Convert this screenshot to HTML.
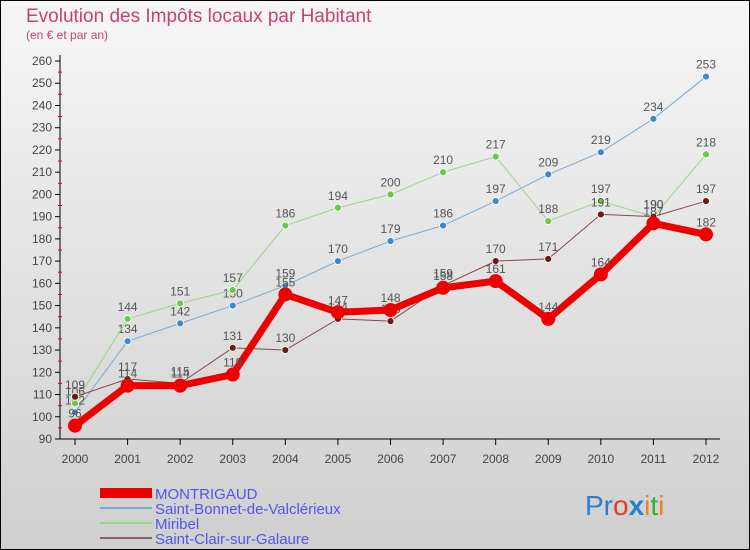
<!DOCTYPE html>
<html><head><meta charset="utf-8"><style>
body{margin:0;width:750px;height:550px;overflow:hidden}
svg{display:block;font-family:"Liberation Sans","DejaVu Sans",sans-serif}
</style></head><body>
<svg width="750" height="550" viewBox="0 0 750 550">
<defs><linearGradient id="bg" x1="0" y1="0" x2="0" y2="1"><stop offset="0" stop-color="#f6f6f6"/><stop offset="1" stop-color="#cfcfcf"/></linearGradient></defs>
<rect x="0.5" y="0.5" width="749" height="549" fill="url(#bg)" stroke="#000"/>
<text x="26" y="22" font-size="19" fill="#c8407a">Evolution des Impôts locaux par Habitant</text>
<text x="26" y="39" font-size="12" fill="#c8407a">(en € et par an)</text>
<g id="axes"></g>
<g id="series"></g>
<g font-size="15" fill="#5555ee">
<rect x="100" y="488" width="52" height="10" fill="#e00"/>
<text x="155" y="499">MONTRIGAUD</text>
<rect x="100" y="507" width="52" height="2" fill="#7aaacc"/>
<text x="155" y="514">Saint-Bonnet-de-Valclérieux</text>
<rect x="100" y="522" width="52" height="2" fill="#99d488"/>
<text x="155" y="529">Miribel</text>
<rect x="100" y="537" width="52" height="2" fill="#8a6060"/>
<text x="155" y="544">Saint-Clair-sur-Galaure</text>
</g>
<g font-size="28">
<text x="585" y="515"><tspan fill="#2a7fd0">Pr</tspan><tspan fill="#e04020">o</tspan><tspan fill="#2a7fd0" font-weight="bold">x</tspan><tspan fill="#f08020">i</tspan><tspan fill="#3aaa3a">t</tspan><tspan fill="#f08020">i</tspan></text>
</g>
</svg>
<script>
const years=[2000,2001,2002,2003,2004,2005,2006,2007,2008,2009,2010,2011,2012];
const yTicks=[90,100,110,120,130,140,150,160,170,180,190,200,210,220,230,240,250,260];
const montrigaud=[96,114,114,119,155,147,148,158,161,144,164,187,182];
const saintBonnet=[102,134,142,150,159,170,179,186,197,209,219,234,253];
const miribel=[106,144,151,157,186,194,200,210,217,188,197,190,218];
const saintClair=[109,117,115,131,130,144,143,159,170,171,191,190,197];
const NS="http://www.w3.org/2000/svg";
const xS=i=>75+i*(706-75)/12;
const yS=v=>439-(v-90)*(439-61)/170;
function mk(t,a,p){const e=document.createElementNS(NS,t);for(const k in a)e.setAttribute(k,a[k]);p.appendChild(e);return e;}
const ax=document.getElementById('axes');
const yl=mk('line',{x1:60,y1:55,x2:60,y2:439,stroke:'#000'},ax);


const xl=mk('line',{x1:60,y1:439,x2:720,y2:439,stroke:'#000'},ax);


yTicks.forEach((v,k)=>{const y=yS(v);
mk('line',{x1:55,y1:y,x2:60,y2:y,stroke:'#000'},ax);
if(k>0)mk('line',{x1:58,y1:y+11.1,x2:62,y2:y+11.1,stroke:'#e00'},ax);
const t=mk('text',{x:52,y:y+4,'font-size':12,fill:'#444','text-anchor':'end'},ax);t.textContent=v;

});
years.forEach((yr,i)=>{const x=xS(i);
mk('line',{x1:x,y1:439,x2:x,y2:445,stroke:'#000'},ax);
const t=mk('text',{x:x,y:463,'font-size':12,fill:'#444','text-anchor':'middle'},ax);t.textContent=yr;

});
const sg=document.getElementById('series');
function series(vals,name,col,dot,w,r){
const g=mk('g',{},sg);


mk('polyline',{points:vals.map((v,i)=>xS(i)+','+yS(v)).join(' '),fill:'none',stroke:col,'stroke-width':w,'stroke-linejoin':'round'},g);
vals.forEach((v,i)=>{const c=mk('circle',{cx:xS(i),cy:yS(v),r:r,fill:dot,stroke:w>3?'none':'#fff','stroke-width':0.8},g);


const t=mk('text',{x:xS(i),y:yS(v)-8,'font-size':12,fill:'#555','text-anchor':'middle'},g);t.textContent=v;

});}
series(saintBonnet,'saint-bonnet-line','#7aaad0','#3a8ad0',1,3.5);
series(miribel,'miribel-line','#99d488','#66cc44',1,3.5);
series(saintClair,'saint-clair-line','#8a4a4a','#6a1a1a',1,3.5);
series(montrigaud,'montrigaud-line','#ee0000','#ee0000',7,7);
</script>
</body></html>
